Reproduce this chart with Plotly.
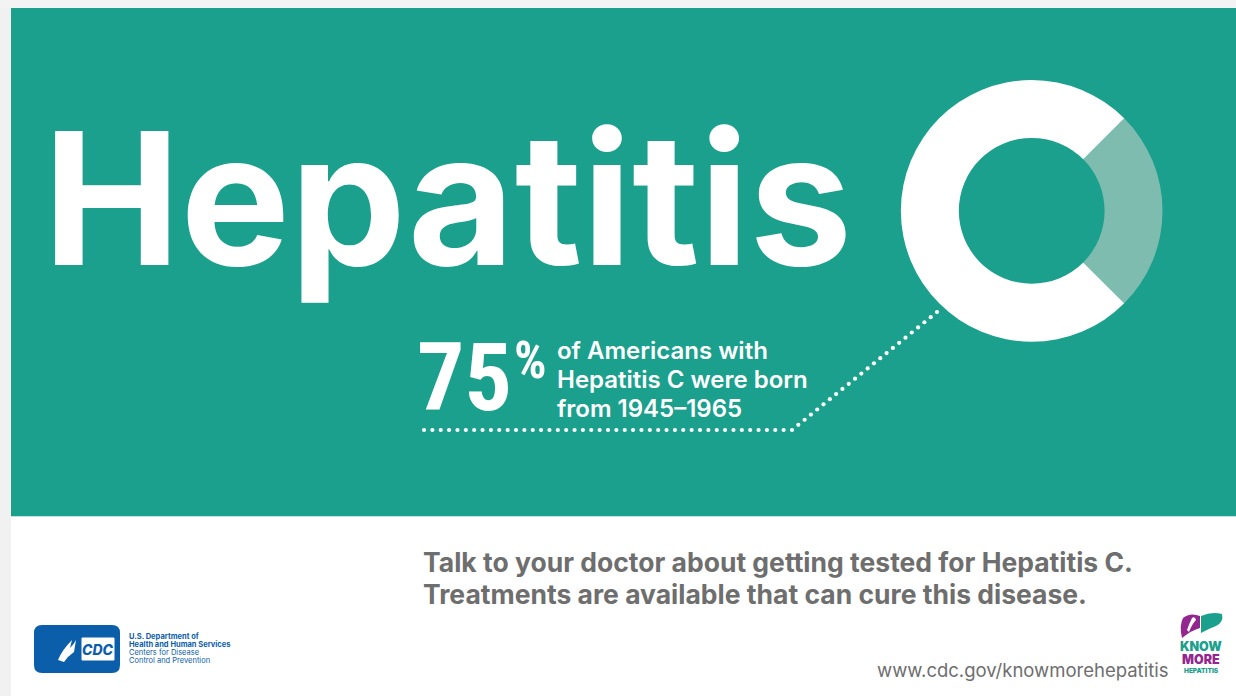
import numpy as np
import plotly.graph_objects as go

W, H = 1236, 696

# data
share_labels = ["Other", "Born 1945–1965"]
share_values = [25, 75]
share_colors = ["#7dbcae", "#ffffff"]

headline = "Hepatitis"
stat_number = "75"
stat_unit = "%"
stat_lines = ["of Americans with", "Hepatitis C were born", "from 1945–1965"]
cta_lines = ["Talk to your doctor about getting tested for Hepatitis C.",
             "Treatments are available that can cure this disease."]
url_text = "www.cdc.gov/knowmorehepatitis"
hhs_lines = ["U.S. Department of", "Health and Human Services",
             "Centers for Disease", "Control and Prevention"]
kmh_lines = ["KNOW", "MORE", "HEPATITIS"]

TEAL = "#1aa08c"
GRAY = "#6e6e6e"
BLUE = "#0b5eaa"
PURPLE = "#93278f"
COND = '"Noto Sans ExtraCondensed", "Noto Sans Condensed", "Roboto Condensed", Roboto'

# connector path vertices (pixel space)
connector_path = [(424, 430), (792, 430), (937, 312)]

fig = go.Figure()

# donut
fig.add_trace(go.Pie(
    labels=share_labels, values=share_values,
    marker=dict(colors=share_colors, line=dict(width=0)),
    hole=0.557, sort=False, direction="clockwise", rotation=45,
    textinfo="none", hoverinfo="label+percent", showlegend=False,
    domain=dict(x=[900.7 / W, 1162.7 / W], y=[1 - 341.7 / H, 1 - 80 / H]),
))

# dotted connector
xs, ys = [], []
for k, ((x0, y0), (x1, y1)) in enumerate(zip(connector_path[:-1], connector_path[1:])):
    L = np.hypot(x1 - x0, y1 - y0)
    n = int(round(L / 8.3))
    t = np.linspace(0, 1, n + 1)
    if k < len(connector_path) - 2:
        t = t[:-1]
    xs += list(x0 + (x1 - x0) * t)
    ys += list(y0 + (y1 - y0) * t)
fig.add_trace(go.Scatter(x=xs, y=ys, mode="markers",
                         marker=dict(color="white", size=4.2, line=dict(width=0)),
                         hoverinfo="skip", showlegend=False))

shapes = [
    dict(type="rect", x0=0, x1=W, y0=0, y1=H, fillcolor="white", line_width=0, layer="below"),
    dict(type="rect", x0=0, x1=11, y0=0, y1=H, fillcolor="#f1f1f1", line_width=0, layer="below"),
    dict(type="rect", x0=0, x1=W, y0=0, y1=8, fillcolor="#f3f3f3", line_width=0, layer="below"),
    dict(type="rect", x0=11, x1=W, y0=8, y1=516, fillcolor=TEAL, line_width=0, layer="below"),
    dict(type="line", x0=11, x1=W, y0=516.5, y1=516.5, line=dict(color="#bfe3dc", width=1), layer="below"),
    # CDC/HHS logo badge
    dict(type="path", path="M 42 625 L 112 625 Q 120 625 120 633 L 120 665 Q 120 673 112 673 "
                           "L 42 673 Q 34 673 34 665 L 34 633 Q 34 625 42 625 Z",
         fillcolor=BLUE, line_width=0, layer="above"),
    dict(type="path", path="M 66 634 A 17 17 0 1 0 70 661", line=dict(color="white", width=1.5),
         layer="above"),
    dict(type="path", path="M 58 660 Q 62 650 72 640 L 70 648 Q 74 644 76 640 L 74 652 Q 68 656 64 662 Z",
         fillcolor="white", line_width=0, layer="above"),
    dict(type="rect", x0=82, x1=114, y0=638, y1=660, fillcolor="white",
         line=dict(color="white", width=1), layer="above"),
    # Know More Hepatitis liver
    dict(type="path", path="M 1200 616 Q 1190 612 1183 618 Q 1179 626 1182 638 Q 1192 630 1200 628 Z",
         fillcolor=PURPLE, line_width=0, layer="above"),
    dict(type="path", path="M 1201 616 Q 1212 611 1222 614 Q 1224 622 1216 626 Q 1208 629 1201 633 Z",
         fillcolor=TEAL, line_width=0, layer="above"),
    dict(type="path", path="M 1192 618 Q 1195 616 1196 620 Q 1192 624 1189 632 L 1187 630 Q 1189 624 1192 618 Z",
         fillcolor="white", line_width=0, layer="above"),
]

ann = []
def txt(x, y, s, size, color="white", family="Inter", weight=400, xanchor="left", yanchor="middle"):
    ann.append(dict(x=x, y=y, xref="x", yref="y", text=s, showarrow=False,
                    xanchor=xanchor, yanchor=yanchor,
                    font=dict(size=size, color=color, family=family, weight=weight)))

txt(41, 198, headline, 184, weight=700)
txt(415, 378, stat_number, 94, family=COND, weight=700)
txt(512, 360, stat_unit, 51, family=COND, weight=700)
for i, s in enumerate(stat_lines):
    txt(555, 350 + 29 * i, s, 24, weight=600)
for i, s in enumerate(cta_lines):
    txt(421, 562 + 32 * i, s, 26.5, color=GRAY, weight=700)
txt(875, 670, url_text, 18.5, color=GRAY, weight=400)
for i, s in enumerate(hhs_lines):
    txt(127, 636 + 8 * i, s, 7.5, color=BLUE, weight=700 if i < 2 else 400)
txt(98, 649, "<i>CDC</i>", 14, color=BLUE, weight=800, xanchor="center")
txt(1201, 646, kmh_lines[0], 12.5, color=TEAL, weight=900, xanchor="center")
txt(1201, 659, kmh_lines[1], 12.5, color=PURPLE, weight=900, xanchor="center")
txt(1201, 671, kmh_lines[2], 6.5, color=TEAL, weight=900, xanchor="center")

fig.update_layout(
    width=W, height=H, margin=dict(l=0, r=0, t=0, b=0),
    paper_bgcolor="white", plot_bgcolor="rgba(0,0,0,0)",
    xaxis=dict(range=[0, W], visible=False, fixedrange=True),
    yaxis=dict(range=[H, 0], visible=False, fixedrange=True),
    shapes=shapes, annotations=ann,
)
fig.write_html("out.html", config={"displayModeBar": False},
               post_script="document.body.style.margin='0';document.body.style.overflow='hidden';")
